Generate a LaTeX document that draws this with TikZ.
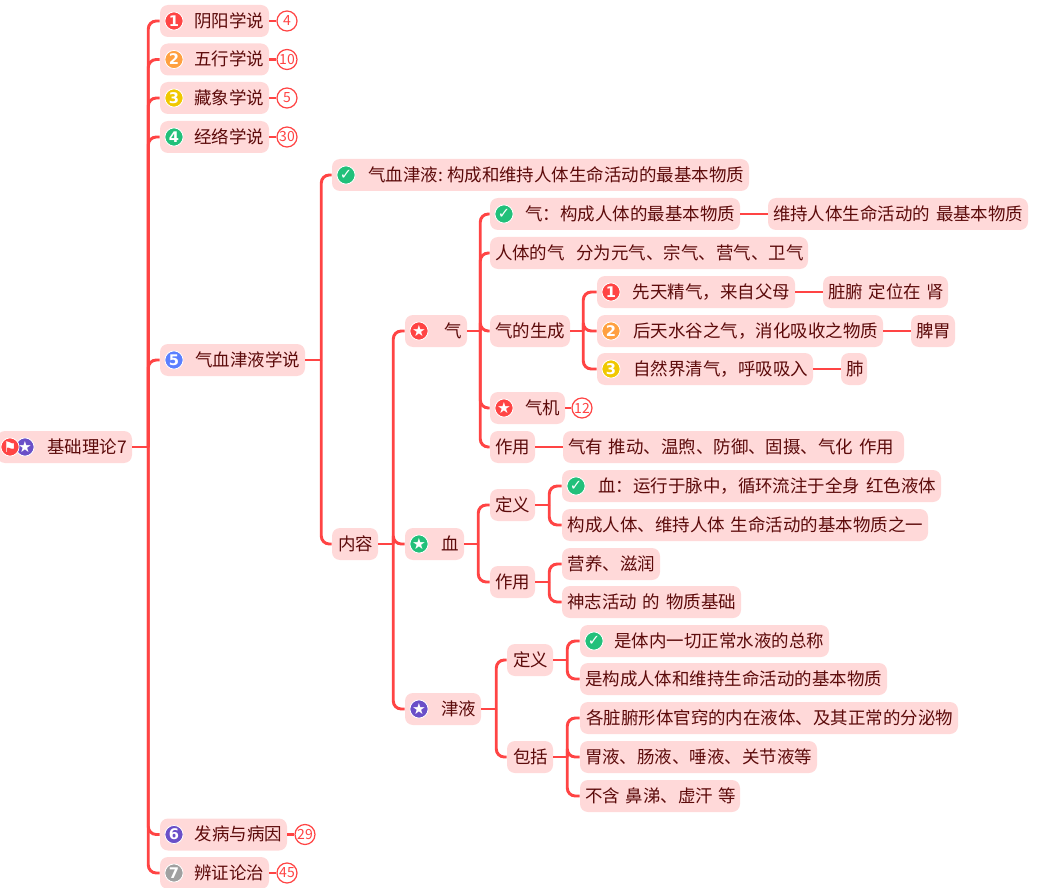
\documentclass[tikz,border=0pt]{standalone}
\usepackage{fontspec}
\setmainfont{Noto Sans CJK SC}
\newfontfamily\symfont{DejaVu Sans}
\definecolor{boxfill}{HTML}{FFD9D9}
\definecolor{inkred}{HTML}{5C0A0A}
\definecolor{linkred}{HTML}{FF4444}
\definecolor{icred}{HTML}{FF4444}
\definecolor{icorange}{HTML}{FFA040}
\definecolor{icyellow}{HTML}{F0C800}
\definecolor{icgreen}{HTML}{22C07A}
\definecolor{icblue}{HTML}{5B7FFF}
\definecolor{icpurple}{HTML}{6A4FC8}
\definecolor{icgrey}{HTML}{A0A0A0}
\tikzset{
  mn/.style={rectangle,rounded corners=6pt,fill=boxfill,text=inkred,inner xsep=3.75pt,inner ysep=0pt,
    minimum height=24pt,align=right,font=\fontsize{13.1pt}{15pt}\selectfont,text height=.96em,text depth=.04em},
  icn/.style={circle,draw=white,line width=.6pt,inner sep=0pt,minimum size=13.6pt,text=white,
    font=\symfont\bfseries\fontsize{11pt}{11pt}\selectfont},
  bdg/.style={circle,draw=linkred,fill=white,line width=.9pt,inner sep=0pt,minimum size=15pt,text=linkred,
    font=\fontsize{10.5pt}{11pt}\selectfont},
  lnk/.style={draw=linkred,line width=2.2pt,rounded corners=6pt},
  lnk0/.style={draw=linkred,line width=2.2pt},
}
\newcommand\nb[5]{%
  \pgfmathsetmacro\wid{(#3-#2-10)*0.75}%
  \pgfmathsetmacro\xm{(#2+#3)/2}%
  \node[mn,text width=\wid pt] (#1) at (\xm,#4) {\mbox{#5}};}
\newcommand\ic[5]{\node[icn,fill=#4] (#1) at (#2,#3) {#5};}
\newcommand\bd[4]{\node[bdg] (#1) at (#2,#3) {#4};}
\newcommand\cn[3]{\draw[lnk0] (#1.east) -- ([xshift=#3*0.75pt]#1.east);
  \draw[lnk] ([xshift=#3*0.75pt]#1.east) |- (#2.west);}
\newcommand\st[2]{\draw[lnk0] (#1.east) -- (#2.west);}
\newcommand\sta{{\fontsize{11.5pt}{11.5pt}\selectfont ★}}
\begin{document}
\begin{tikzpicture}[x=0.75pt,y=-0.75pt]
\useasboundingbox (0,0) rectangle (1050,888);
% root
\nb{root}{-3}{132}{447}{基础理论7}
\ic{rootB}{25}{447}{icpurple}{\sta}
\ic{rootA}{10}{447}{icred}{⚑}
% level 1
\nb{a}{160}{269}{21}{阴阳学说}\ic{aI}{174}{21}{icred}{1}\bd{aB}{287}{21}{4}
\nb{b}{160}{269}{59.5}{五行学说}\ic{bI}{174}{59.5}{icorange}{2}\bd{bB}{287}{59.5}{10}
\nb{c}{160}{269}{98}{藏象学说}\ic{cI}{174}{98}{icyellow}{3}\bd{cB}{287}{98}{5}
\nb{d}{160}{269}{137}{经络学说}\ic{dI}{174}{137}{icgreen}{4}\bd{dB}{287}{137}{30}
\nb{e}{160}{305}{360}{气血津液学说}\ic{eI}{174}{360}{icblue}{5}
\nb{f}{160}{287}{834.5}{发病与病因}\ic{fI}{174}{834.5}{icpurple}{6}\bd{fB}{305}{834.5}{29}
\nb{g}{160}{269}{873}{辨证论治}\ic{gI}{174}{873}{icgrey}{7}\bd{gB}{287}{873}{45}
% level 2
\nb{e1}{332}{749}{175}{\xspaceskip=3pt 气血津液: 构成和维持人体生命活动的最基本物质}\ic{e1I}{346}{175}{icgreen}{✓}
\nb{e2}{332}{378}{544}{内容}
% level 3
\nb{qi}{405}{467}{331}{气}\ic{qiI}{419}{331}{icred}{\sta}
\nb{xue}{405}{464}{544}{血}\ic{xueI}{419}{544}{icgreen}{\sta}
\nb{jin}{405}{481}{709}{津液}\ic{jinI}{419}{709}{icpurple}{\sta}
% qi
\nb{q1}{490}{740}{214}{气：构成人体的最基本物质}\ic{q1I}{504}{214}{icgreen}{✓}
\nb{q1a}{768}{1028}{214}{维持人体生命活动的 最基本物质}
\nb{q2}{490}{808}{253}{人体的气\ \ 分为元气、宗气、营气、卫气}
\nb{q3}{490}{570}{331}{气的生成}
\nb{q4}{490}{565}{408}{气机}\ic{q4I}{504}{408}{icred}{\sta}\bd{q4B}{582}{408}{12}
\nb{q5}{490}{535}{447}{作用}
\nb{q5a}{563}{904}{447}{气有 推动、温煦、防御、固摄、气化 作用\hspace{6pt}}
\nb{s1}{597}{795}{292}{先天精气，来自父母}\ic{s1I}{611}{292}{icred}{1}
\nb{s1a}{823}{948}{292}{脏腑 定位在 肾}
\nb{s2}{597}{883}{331}{后天水谷之气，消化吸收之物质}\ic{s2I}{611}{331}{icorange}{2}
\nb{s2a}{911}{955}{331}{脾胃}
\nb{s3}{597}{813}{369}{自然界清气，呼吸吸入}\ic{s3I}{611}{369}{icyellow}{3}
\nb{s3a}{841}{867}{369}{肺}
% xue
\nb{x1}{490}{535}{505}{定义}
\nb{x2}{490}{535}{582}{作用}
\nb{x1a}{562}{941}{486}{血：运行于脉中，循环流注于全身 红色液体}\ic{x1aI}{576}{486}{icgreen}{✓}
\nb{x1b}{562}{928}{525}{构成人体、维持人体 生命活动的基本物质之一}
\nb{x2a}{562}{660}{564}{营养、滋润}
\nb{x2b}{562}{741}{602}{神志活动 的 物质基础}
% jin
\nb{j1}{507}{553}{660}{定义}
\nb{j2}{507}{553}{757}{包括}
\nb{j1a}{580}{829}{641}{是体内一切正常水液的总称}\ic{j1aI}{594}{641}{icgreen}{✓}
\nb{j1b}{580}{887}{679}{是构成人体和维持生命活动的基本物质}
\nb{j2a}{580}{958}{718}{各脏腑形体官窍的内在液体、及其正常的分泌物}
\nb{j2b}{580}{817}{757}{胃液、肠液、唾液、关节液等}
\nb{j2c}{580}{740}{796}{不含 鼻涕、虚汗 等}
% connectors
\foreach \c in {a,b,c,d,e,f,g}{\cn{root}{\c}{16}}
\st{a}{aB}\st{b}{bB}\st{c}{cB}\st{d}{dB}\st{f}{fB}\st{g}{gB}
\cn{e}{e1}{16}\cn{e}{e2}{16}
\foreach \c in {qi,xue,jin}{\cn{e2}{\c}{15}}
\foreach \c in {q1,q2,q3,q4,q5}{\cn{qi}{\c}{13}}
\st{q1}{q1a}\st{q4}{q4B}\st{q5}{q5a}
\foreach \c in {s1,s2,s3}{\cn{q3}{\c}{13}}
\st{s1}{s1a}\st{s2}{s2a}\st{s3}{s3a}
\cn{xue}{x1}{14}\cn{xue}{x2}{14}
\cn{x1}{x1a}{14}\cn{x1}{x1b}{14}
\cn{x2}{x2a}{14}\cn{x2}{x2b}{14}
\cn{jin}{j1}{15}\cn{jin}{j2}{15}
\cn{j1}{j1a}{14}\cn{j1}{j1b}{14}
\foreach \c in {j2a,j2b,j2c}{\cn{j2}{\c}{14}}
\end{tikzpicture}
\end{document}
